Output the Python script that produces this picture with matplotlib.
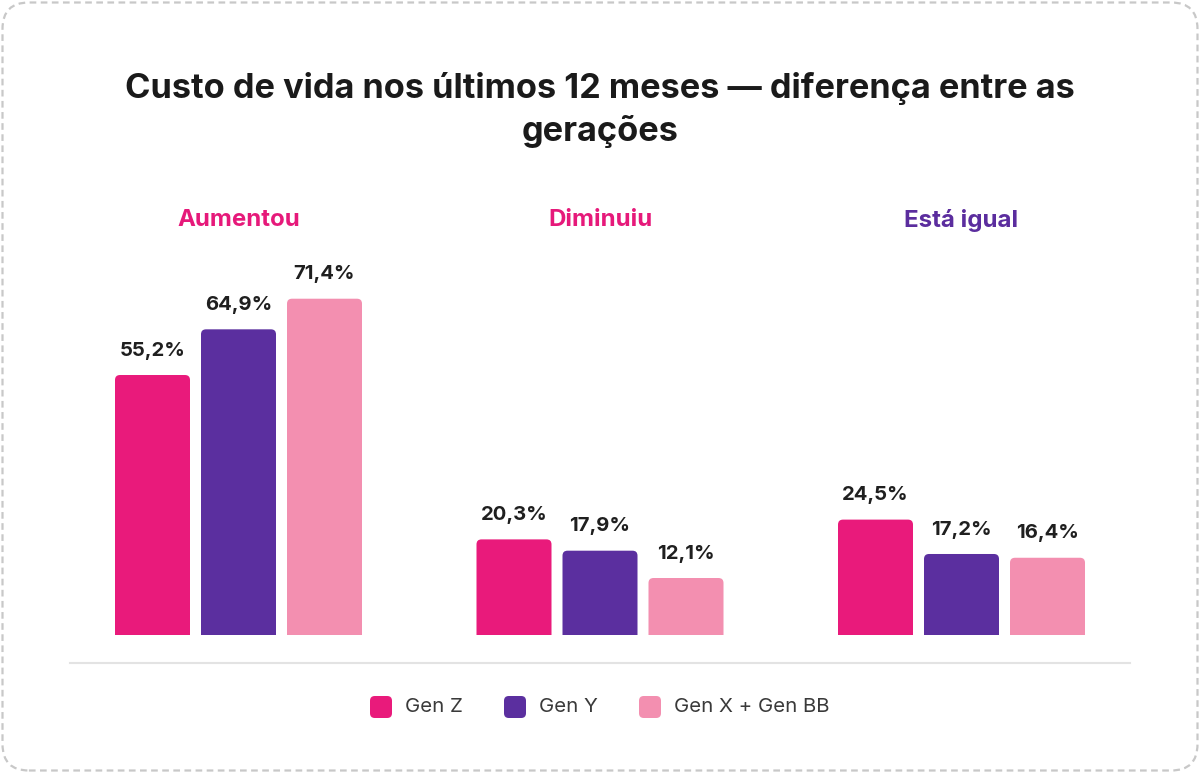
import matplotlib
matplotlib.use("Agg")
import matplotlib.pyplot as plt
from matplotlib.patches import FancyBboxPatch, Rectangle
import numpy as np

# ---- data ----
title = "Custo de vida nos últimos 12 meses — diferença entre as\ngerações"
categories = ["Aumentou", "Diminuiu", "Está igual"]
category_colors = ["#E6197A", "#E6197A", "#5B2D9E"]
series_names = ["Gen Z", "Gen Y", "Gen X + Gen BB"]
gen_z = [55.2, 20.3, 24.5]
gen_y = [64.9, 17.9, 17.2]
gen_x_bb = [71.4, 12.1, 16.4]
series_colors = ["#E91A7B", "#5B2F9F", "#F38FB0"]

W, H = 1200, 773
fig = plt.figure(figsize=(W / 100, H / 100), dpi=100)
fig.patch.set_facecolor("white")

FONT = ["Inter", "DejaVu Sans"]

# card border (dashed, rounded)
card = FancyBboxPatch((2.5 / W, 2.5 / H), (W - 5) / W, (H - 5) / H,
                      boxstyle="round,pad=0,rounding_size=0.022",
                      transform=fig.transFigure, facecolor="white",
                      edgecolor="#C8C8C8", linewidth=1.6,
                      linestyle=(0, (3, 2)), mutation_aspect=W / H, zorder=-10)
fig.patches.append(card)

# title
fig.text(0.5, 1 - 110 / H, title, ha="center", va="center", fontsize=24.7,
         fontweight="bold", color="#1A1A1A", family=FONT, linespacing=1.4)

# axes placement (pixels)
x0_px, x1_px = 70, 1130
base_px = 635           # baseline of bars (from top)
axis_px = 663           # gray axis line (from top)
top_px = 240
pxy = 4.71              # pixels per percent
pxx = 361.5             # pixels per group

ax = fig.add_axes([x0_px / W, (H - axis_px) / H, (x1_px - x0_px) / W,
                   (axis_px - top_px) / H])
ax.set_xlim(1 - (600 - x0_px) / pxx, 1 + (x1_px - 600) / pxx)
ax.set_ylim(-(axis_px - base_px) / pxy, (base_px - top_px) / pxy)
ax.axis("off")
ax.axhline(ax.get_ylim()[0], color="#E3E3E3", linewidth=1.5, clip_on=False)

x = np.arange(len(categories))
bw = 75 / pxx
off = 86 / pxx
aspect = pxx / pxy
r = 5 / pxx
ext = 3.0  # extension below baseline (percent units), clipped away

xl = ax.get_xlim()
clip = Rectangle((xl[0], 0), xl[1] - xl[0], 200, transform=ax.transData,
                 facecolor="none", edgecolor="none")

all_series = [gen_z, gen_y, gen_x_bb]
for si, (vals, col) in enumerate(zip(all_series, series_colors)):
    bars = ax.bar(x + (si - 1) * off, vals, width=bw, color=col)
    for b, v in zip(bars, vals):
        b.set_visible(False)
        bx, by, bwid, bh = b.get_x(), b.get_y(), b.get_width(), b.get_height()
        p = FancyBboxPatch((bx, by - ext), bwid, bh + ext,
                           boxstyle=f"round,pad=0,rounding_size={r}",
                           mutation_aspect=aspect, facecolor=col,
                           edgecolor="none")
        ax.add_patch(p)
        p.set_clip_path(clip)
        ax.annotate(f"{v:.1f}%".replace(".", ","), (bx + bwid / 2, bh),
                    xytext=(0, 11), textcoords="offset points", ha="center",
                    va="bottom", fontsize=14.6, fontweight="bold",
                    color="#1F1F1F", family=FONT)

# category labels
for i, (c, cc) in enumerate(zip(categories, category_colors)):
    fig.text((600 + (i - 1) * pxx) / W, 1 - 220 / H, c, ha="center",
             va="center", fontsize=17.3, fontweight="bold", color=cc,
             family=FONT)

# legend
leg_sq = [370, 504, 639]
leg_y = 707
for xs, name, col in zip(leg_sq, series_names, series_colors):
    fig.patches.append(FancyBboxPatch((xs / W, (H - leg_y - 11) / H), 22 / W, 22 / H,
                                      boxstyle="round,pad=0,rounding_size=0.004",
                                      mutation_aspect=W / H,
                                      transform=fig.transFigure,
                                      facecolor=col, edgecolor="none"))
    fig.text((xs + 35) / W, 1 - leg_y / H, name, ha="left", va="center",
             fontsize=14.7, color="#3A3A3A", family=FONT)

fig.savefig("out.png", dpi=100, facecolor="white")
